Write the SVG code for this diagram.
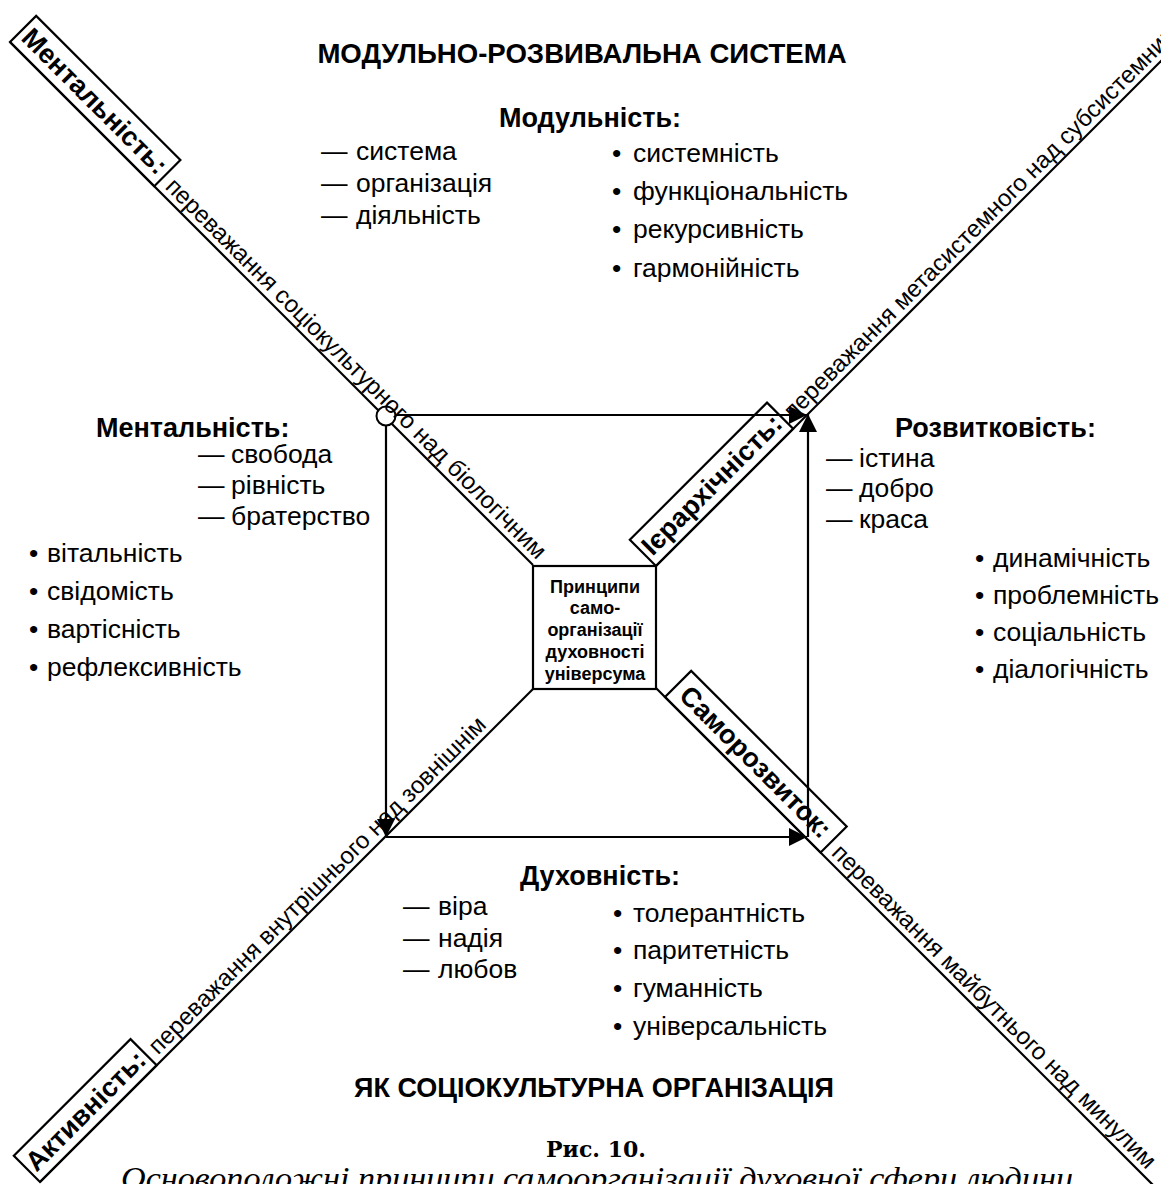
<svg xmlns="http://www.w3.org/2000/svg" width="1161" height="1184" viewBox="0 0 1161 1184">
<defs>
<style>
.t{font-family:"Liberation Sans",Arial,sans-serif;font-size:26.5px;fill:#000}
.h{font-family:"Liberation Sans",Arial,sans-serif;font-size:27px;font-weight:bold;fill:#000}
.d{font-family:"Liberation Sans",Arial,sans-serif;font-size:24px;fill:#000}
.lbl{font-family:"Liberation Sans",Arial,sans-serif;font-size:27px;font-weight:bold;fill:#000;text-anchor:middle}
.ctr{font-family:"Liberation Sans",Arial,sans-serif;font-size:18px;font-weight:bold;fill:#000;text-anchor:middle}
.ln{stroke:#000;stroke-width:2.2;fill:none}
.box{stroke:#000;stroke-width:2.2;fill:none}
</style>
<marker id="arr" markerUnits="userSpaceOnUse" markerWidth="18" markerHeight="18" refX="18" refY="9" orient="auto" viewBox="0 0 18 18">
<path d="M0,0 L18,9 L0,18 z" fill="#000"/>
</marker>
</defs>
<rect width="1161" height="1184" fill="#fff"/>

<g id="connectors">
<path class="ln" d="M10,42 L533,565"/>
<path class="ln" d="M656,566 L1170,52"/>
<path class="ln" d="M40,1182 L533,689"/>
<path class="ln" d="M656,688 L1175,1207"/>
<path class="ln" d="M395,415 H807" marker-end="url(#arr)"/>
<path class="ln" d="M386,425 V837" marker-end="url(#arr)"/>
<path class="ln" d="M386,837 H807" marker-end="url(#arr)"/>
<path class="ln" d="M808,837 V414" marker-end="url(#arr)"/>
<circle cx="386" cy="416" r="9.5" fill="#fff" stroke="#000" stroke-width="2"/>
</g>

<g id="center">
<rect x="533" y="566" width="123" height="123" fill="#fff" stroke="#000" stroke-width="2.2"/>
<text class="ctr" x="595" y="593">Принципи</text>
<text class="ctr" x="595" y="614">само-</text>
<text class="ctr" x="595" y="636">організації</text>
<text class="ctr" x="595" y="658">духовності</text>
<text class="ctr" x="595" y="680">універсума</text>
</g>

<g id="axis-mentality" transform="translate(10,42) rotate(45)">
<rect class="box" x="0" y="-37" width="204" height="37"/>
<text class="lbl" x="102" y="-9">Ментальність:</text>
<text class="d" x="212" y="-6">переважання соціокультурного над біологічним</text>
</g>

<g id="axis-hierarchy" transform="translate(656,566) rotate(-45)">
<rect class="box" x="0" y="-37" width="194" height="37"/>
<text class="lbl" x="97" y="-9">Ієрархічність:</text>
<text class="d" x="200" y="-6">переважання метасистемного над субсистемним</text>
</g>

<g id="axis-activity" transform="translate(40,1182) rotate(-45)">
<rect class="box" x="0" y="-37" width="165" height="37"/>
<text class="lbl" x="82.5" y="-9">Активність:</text>
<text class="d" x="173" y="-6">переважання внутрішнього над зовнішнім</text>
</g>

<g id="axis-selfdev" transform="translate(665,697) rotate(45)">
<rect class="box" x="0" y="-37" width="220" height="37"/>
<text class="lbl" x="110" y="-9">Саморозвиток:</text>
<text class="d" x="228" y="-6">переважання майбутнього над минулим</text>
</g>

<g id="title">
<text class="h" x="582" y="63" text-anchor="middle" style="font-size:27.6px">МОДУЛЬНО-РОЗВИВАЛЬНА СИСТЕМА</text>
</g>

<g id="modularity">
<text class="h" x="590" y="127" text-anchor="middle">Модульність:</text>
<text class="t"><tspan x="321" y="160">—</tspan><tspan x="356">система</tspan></text>
<text class="t"><tspan x="321" y="192">—</tspan><tspan x="356">організація</tspan></text>
<text class="t"><tspan x="321" y="224">—</tspan><tspan x="356">діяльність</tspan></text>
<text class="t"><tspan x="612" y="162">•</tspan><tspan x="633">системність</tspan></text>
<text class="t"><tspan x="612" y="200">•</tspan><tspan x="633">функціональність</tspan></text>
<text class="t"><tspan x="612" y="238">•</tspan><tspan x="633">рекурсивність</tspan></text>
<text class="t"><tspan x="612" y="277">•</tspan><tspan x="633">гармонійність</tspan></text>
</g>

<g id="mentality">
<text class="h" x="96" y="437">Ментальність:</text>
<text class="t"><tspan x="198" y="463">—</tspan><tspan x="231">свобода</tspan></text>
<text class="t"><tspan x="198" y="494">—</tspan><tspan x="231">рівність</tspan></text>
<text class="t"><tspan x="198" y="525">—</tspan><tspan x="231">братерство</tspan></text>
<text class="t"><tspan x="29" y="562">•</tspan><tspan x="47">вітальність</tspan></text>
<text class="t"><tspan x="29" y="600">•</tspan><tspan x="47">свідомість</tspan></text>
<text class="t"><tspan x="29" y="638">•</tspan><tspan x="47">вартісність</tspan></text>
<text class="t"><tspan x="29" y="676">•</tspan><tspan x="47">рефлексивність</tspan></text>
</g>

<g id="development">
<text class="h" x="895" y="437">Розвитковість:</text>
<text class="t"><tspan x="826" y="467">—</tspan><tspan x="859">істина</tspan></text>
<text class="t"><tspan x="826" y="497">—</tspan><tspan x="859">добро</tspan></text>
<text class="t"><tspan x="826" y="528">—</tspan><tspan x="859">краса</tspan></text>
<text class="t"><tspan x="975" y="567">•</tspan><tspan x="993">динамічність</tspan></text>
<text class="t"><tspan x="975" y="604">•</tspan><tspan x="993">проблемність</tspan></text>
<text class="t"><tspan x="975" y="641">•</tspan><tspan x="993">соціальність</tspan></text>
<text class="t"><tspan x="975" y="678">•</tspan><tspan x="993">діалогічність</tspan></text>
</g>

<g id="spirituality">
<text class="h" x="520" y="885">Духовність:</text>
<text class="t"><tspan x="403" y="915">—</tspan><tspan x="438">віра</tspan></text>
<text class="t"><tspan x="403" y="947">—</tspan><tspan x="438">надія</tspan></text>
<text class="t"><tspan x="403" y="978">—</tspan><tspan x="438">любов</tspan></text>
<text class="t"><tspan x="613" y="922">•</tspan><tspan x="633">толерантність</tspan></text>
<text class="t"><tspan x="613" y="959">•</tspan><tspan x="633">паритетність</tspan></text>
<text class="t"><tspan x="613" y="997">•</tspan><tspan x="633">гуманність</tspan></text>
<text class="t"><tspan x="613" y="1035">•</tspan><tspan x="633">універсальність</tspan></text>
</g>

<g id="subtitle">
<text class="h" x="594" y="1097" text-anchor="middle">ЯК СОЦІОКУЛЬТУРНА ОРГАНІЗАЦІЯ</text>
</g>

<g id="caption">
<text x="596" y="1157" text-anchor="middle" style="font-family:'DejaVu Serif','Liberation Serif',serif;font-size:22px;font-weight:bold">Рис. 10.</text>
<text x="121" y="1189" textLength="952" lengthAdjust="spacingAndGlyphs" style="font-family:'Liberation Serif','DejaVu Serif',serif;font-size:32px;font-style:italic">Основоположні принципи самоорганізації духовної сфери людини</text>
</g>
</svg>
